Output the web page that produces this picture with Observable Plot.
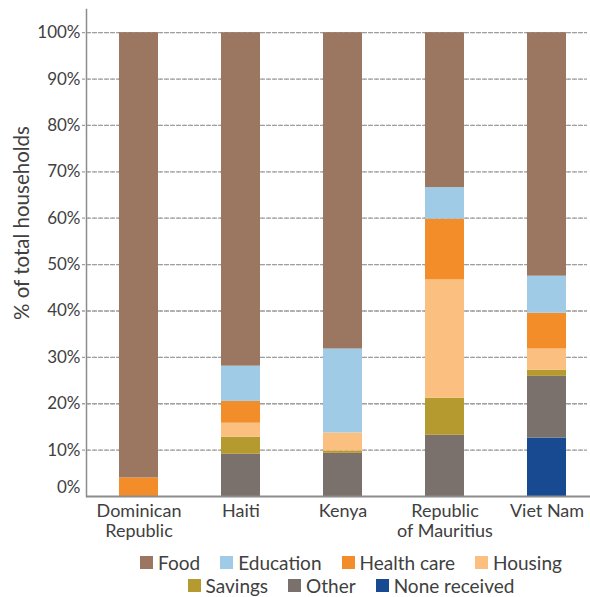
<!DOCTYPE html>
<html><head><meta charset="utf-8">
<script src="https://cdn.jsdelivr.net/npm/d3@7"></script>
<script src="https://cdn.jsdelivr.net/npm/@observablehq/plot@0.6"></script>
<style>
body{margin:0;background:#fff;font-family:Lato,sans-serif;color:#404040}
#wrap{width:590px;position:relative}
#wrap svg{display:block}
.legend{margin-left:106px;width:490px;font-size:19px;color:#404040;padding-top:6px}
.row{display:flex;justify-content:center;align-items:center;height:23px}
.item{display:flex;align-items:center;margin:0 10px}
.sw{width:13px;height:13px;margin-right:5px}
</style></head><body><div id="wrap"></div>
<script>
const countries = ["Dominican Republic","Haiti","Kenya","Republic of Mauritius","Viet Nam"];
const countryLabels = ["Dominican\nRepublic","Haiti","Kenya","Republic\nof Mauritius","Viet Nam"];
const stackOrder = ["None received","Other","Savings","Housing","Health care","Education","Food"];
const noneReceived = [0,0,0,0,12.6];
const other = [0,9.1,9.3,13.2,13.3];
const savings = [0,3.7,0.5,8.0,1.3];
const housing = [0,3.0,3.9,25.5,4.6];
const healthCare = [4.0,4.7,0,13.1,7.7];
const education = [0,7.6,18.1,6.8,8.0];
const food = [96.0,71.9,68.2,33.4,52.5];
const legendRows = [["Food","Education","Health care","Housing"],["Savings","Other","None received"]];
const colorDomain = ["Food","Education","Health care","Housing","Savings","Other","None received"];
const colorRange = ["#9b7762","#a0cbe6","#f28d2a","#fbbf80","#b59a30","#7a716d","#174a91"];
const yTicks = [10,20,30,40,50,60,70,80,90,100];
const yLabel = "% of total households";

const seriesValues = {"None received":noneReceived,"Other":other,"Savings":savings,"Housing":housing,"Health care":healthCare,"Education":education,"Food":food};
const data = [];
stackOrder.forEach(cat => countries.forEach((c,i) => data.push({country:c, category:cat, value:seriesValues[cat][i]})));

const chart = Plot.plot({
  width:590, height:545,
  marginLeft:86, marginRight:0, marginTop:9, marginBottom:49,
  style:{fontFamily:"Lato, sans-serif", color:"#404040", background:"#fff"},
  x:{domain:countries, range:[86,598], paddingInner:0.62, paddingOuter:0.31, axis:null},
  y:{domain:[0,105], axis:null},
  color:{domain:colorDomain, range:colorRange},
  marks:[
    Plot.ruleY(yTicks, {stroke:"#a0a0a0", strokeWidth:1.3, strokeDasharray:"3,3"}),
    Plot.tickY(yTicks, {x:null, stroke:"#a0a0a0", strokeWidth:1.3, dx:-4, strokeDasharray:"3,3"}),
    Plot.barY(data, {x:"country", y:"value", fill:"category", order:stackOrder}),
    Plot.axisY(yTicks, {tickSize:0, tickPadding:6, fontSize:17, tickFormat:d=>d+"%", label:null}),
    Plot.axisY([0], {tickSize:0, tickPadding:6, fontSize:17, tickFormat:d=>d+"%", label:null, dy:-9}),
    Plot.axisX({tickSize:0, tickPadding:6, fontSize:18, tickFormat:(d,i)=>countryLabels[countries.indexOf(d)], label:null, lineHeight:1.12}),
    Plot.ruleY([0], {stroke:"#8c8c8c", strokeWidth:2}),
    Plot.frame({anchor:"left", stroke:"#8c8c8c", strokeWidth:1.5}),
    Plot.text([yLabel], {frameAnchor:"left", textAnchor:"middle", text:d=>d, rotate:-90, dx:-64, dy:-30, fontSize:20.5, fill:"#404040"})
  ]
});
const wrap = document.getElementById("wrap");
wrap.appendChild(chart);
const leg = document.createElement("div");
leg.className = "legend";
legendRows.forEach(r => {
  const row = document.createElement("div"); row.className = "row";
  r.forEach(name => {
    const it = document.createElement("div"); it.className = "item";
    const sw = document.createElement("div"); sw.className = "sw";
    sw.style.background = colorRange[colorDomain.indexOf(name)];
    const t = document.createElement("span"); t.textContent = name;
    it.appendChild(sw); it.appendChild(t); row.appendChild(it);
  });
  leg.appendChild(row);
});
wrap.appendChild(leg);
</script></body></html>
